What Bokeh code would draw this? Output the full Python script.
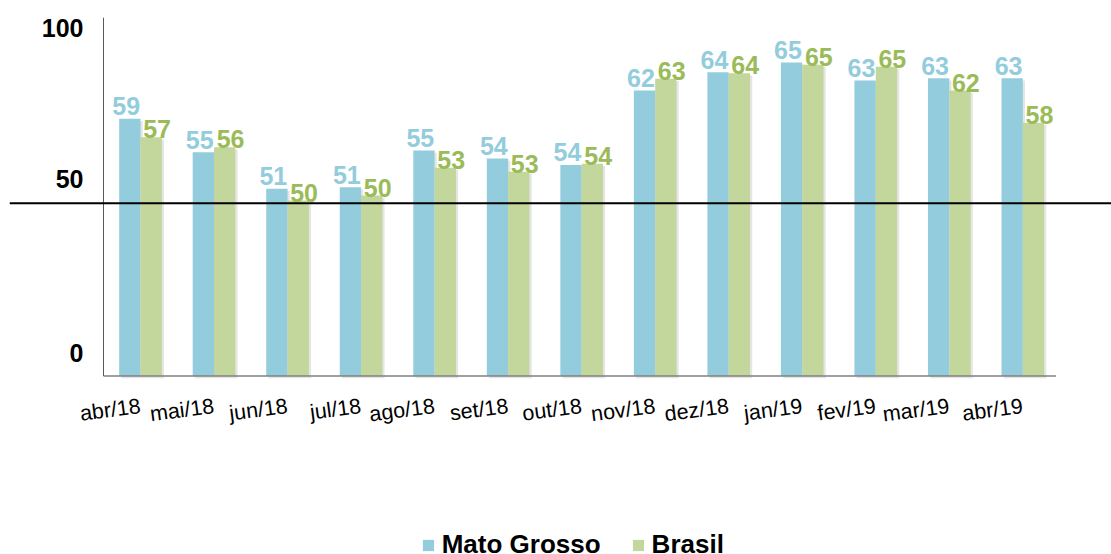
import numpy as np
from bokeh.plotting import figure
from bokeh.models import (ColumnDataSource, Range1d, LinearAxis, FixedTicker, Span,
                          Legend, LegendItem)
from bokeh.transform import dodge
from bokeh.core.properties import value
from bokeh.embed import file_html
from bokeh.resources import INLINE

# ---------------- data ----------------
months = ["abr/18", "mai/18", "jun/18", "jul/18", "ago/18", "set/18", "out/18",
          "nov/18", "dez/18", "jan/19", "fev/19", "mar/19", "abr/19"]
mato_grosso = [58.89, 55.14, 51.03, 51.21, 55.33, 54.43, 53.72,
               62.07, 64.13, 65.22, 63.20, 63.45, 63.45]
brasil = [56.83, 55.70, 49.71, 50.28, 53.39, 52.94, 53.84,
          63.39, 64.02, 64.96, 64.74, 62.07, 58.45]
series_names = ["Mato Grosso", "Brasil"]
y_tick_labels = ["0", "50", "100"]
y_tick_values = [32.6, 52.1, 69.1]
reference_level = 49.41
axis_base = 30.0
axis_top = 70.28

# ---------------- styling ----------------
FONT = "Liberation Sans"
MT_BAR = "#93CDDD"
BR_BAR = "#C3D69B"
MT_TXT = "#93CDDD"
BR_TXT = "#9BBB59"
BAR_W = 0.29
Y_AXIS_X = -0.503
X_AXIS_END = 12.45

W, H = 1111, 554
p = figure(width=W, height=H, output_backend="svg", toolbar_location=None,
           x_range=Range1d(-1.7816, 13.206), y_range=Range1d(9.94, axis_top),
           x_axis_location=None, y_axis_location=None,
           min_border_left=9, min_border_right=0,
           min_border_top=17, min_border_bottom=0)
p.outline_line_color = None
p.xgrid.visible = False
p.ygrid.visible = False
p.background_fill_color = "white"

x = list(range(len(months)))
src = ColumnDataSource(dict(
    x=x, month=months, mt=mato_grosso, br=brasil,
    mt_lab=[f"{v:.0f}" for v in mato_grosso],
    br_lab=[f"{v:.0f}" for v in brasil],
    mt_sh=[v - 0.25 for v in mato_grosso],
    br_sh=[v - 0.25 for v in brasil],
))

# soft shadows
p.vbar(x=dodge("x", -BAR_W / 2 + 0.03, range=p.x_range), top="mt_sh", bottom=axis_base - 0.25,
       width=BAR_W, source=src, fill_color="#000000", fill_alpha=0.10, line_color=None)
p.vbar(x=dodge("x", BAR_W / 2 + 0.03, range=p.x_range), top="br_sh", bottom=axis_base - 0.25,
       width=BAR_W, source=src, fill_color="#000000", fill_alpha=0.10, line_color=None)

mt_r = p.vbar(x=dodge("x", -BAR_W / 2, range=p.x_range), top="mt", bottom=axis_base,
              width=BAR_W, source=src, fill_color=MT_BAR, line_color=None)
br_r = p.vbar(x=dodge("x", BAR_W / 2, range=p.x_range), top="br", bottom=axis_base,
              width=BAR_W, source=src, fill_color=BR_BAR, line_color=None)

# value labels
p.text(x=dodge("x", -BAR_W / 2, range=p.x_range), y="mt", text="mt_lab", source=src,
       x_offset=-3.6, y_offset=-12.7, text_align="center", text_baseline="alphabetic",
       text_font=value(FONT), text_font_style="bold", text_font_size="25px",
       text_color=MT_TXT)
p.text(x=dodge("x", BAR_W / 2, range=p.x_range), y="br", text="br_lab", source=src,
       x_offset=5.9, y_offset=-7.9, text_align="center", text_baseline="alphabetic",
       text_font=value(FONT), text_font_style="bold", text_font_size="25px",
       text_color=BR_TXT)

# axis lines
p.segment(x0=Y_AXIS_X, y0=axis_base, x1=X_AXIS_END, y1=axis_base,
          line_color="#808080", line_width=1.5)
p.segment(x0=Y_AXIS_X, y0=axis_base, x1=Y_AXIS_X, y1=axis_top,
          line_color="#595959", line_width=1)

# reference line
p.add_layout(Span(location=reference_level, dimension="width",
                  line_color="black", line_width=2))

# y axis (labels only)
yax = LinearAxis(fixed_location=Y_AXIS_X,
                 ticker=FixedTicker(ticks=y_tick_values),
                 major_label_overrides=dict(zip(y_tick_values, y_tick_labels)),
                 axis_line_color=None,
                 major_tick_line_color=None, minor_tick_line_color=None,
                 major_tick_out=0, major_tick_in=0,
                 major_label_text_font=FONT, major_label_text_font_style="bold",
                 major_label_text_font_size="25px", major_label_text_color="black",
                 major_label_standoff=20)
p.add_layout(yax, "left")

# x axis (labels only)
xa = LinearAxis(fixed_location=axis_base,
                ticker=FixedTicker(ticks=x),
                major_label_overrides={i: m for i, m in zip(x, months)},
                axis_line_color=None,
                major_tick_line_color=None, minor_tick_line_color=None,
                major_tick_out=0, major_tick_in=0,
                major_label_orientation=0.13,
                major_label_text_font=FONT, major_label_text_font_size="21.5px",
                major_label_text_color="black", major_label_standoff=30)
p.add_layout(xa, "below")

legend = Legend(items=[LegendItem(label=series_names[0], renderers=[mt_r]),
                       LegendItem(label=series_names[1], renderers=[br_r])],
                orientation="horizontal", location=(411.7, -6),
                label_text_font=FONT, label_text_font_style="bold",
                label_text_font_size="26px", label_text_color="black",
                glyph_width=14, glyph_height=14, label_standoff=7, spacing=30,
                padding=0, margin=0, border_line_color=None,
                background_fill_alpha=0)
p.add_layout(legend)

open("out.html", "w").write(file_html(p, INLINE))
